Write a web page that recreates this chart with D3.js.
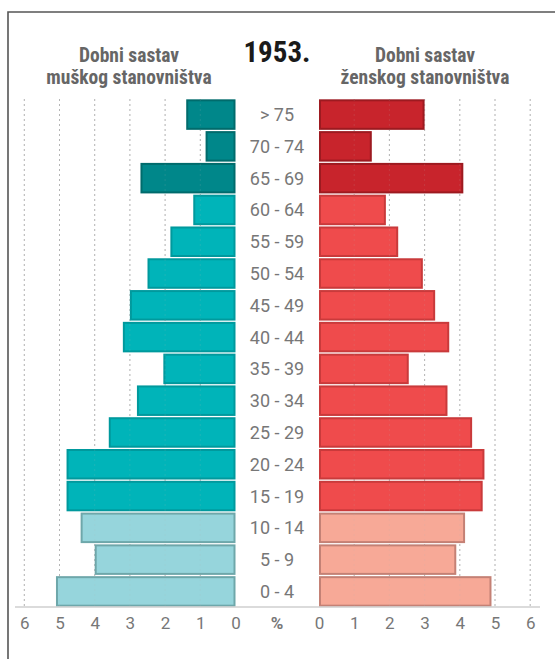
<!DOCTYPE html>
<html>
<head>
<meta charset="utf-8">
<script src="https://cdnjs.cloudflare.com/ajax/libs/d3/7.8.5/d3.min.js"></script>
<style>
	body { margin: 0; background: #fff; }
	svg { display: block; }
	.age { font-family: Roboto, "Liberation Sans", sans-serif; font-size: 18px; fill: #777; }
	.tick text { font-family: Roboto, "Liberation Sans", sans-serif; font-size: 17px; fill: #777; }
	.subtitle { font-family: "Liberation Sans Narrow", "Roboto Condensed", "Arial Narrow", sans-serif; font-weight: bold; font-size: 19.5px; fill: #666; }
	.graphtitle { font-family: "Liberation Sans Narrow", "Roboto Condensed", "Arial Narrow", sans-serif; font-weight: bold; font-size: 29px; fill: #1a1a1a; }
</style>
</head>
<body>
<svg class="pyramid"></svg>
<script>
/* Population pyramid for 1953, drawn for the page */

// age groups, top to bottom
var ageGroups = ["> 75", "70 - 74", "65 - 69", "60 - 64", "55 - 59", "50 - 54", "45 - 49", "40 - 44",
	"35 - 39", "30 - 34", "25 - 29", "20 - 24", "15 - 19", "10 - 14", "5 - 9", "0 - 4"];
// share of population, %
var maleValues = [1.4, 0.85, 2.7, 1.2, 1.85, 2.5, 3.0, 3.2, 2.05, 2.8, 3.6, 4.8, 4.8, 4.4, 4.0, 5.1];
var femaleValues = [3.0, 1.5, 4.1, 1.9, 2.25, 2.95, 3.3, 3.7, 2.55, 3.65, 4.35, 4.7, 4.65, 4.15, 3.9, 4.9];
// which colour tier each age group belongs to
var ageTiers = ["old", "old", "old", "work", "work", "work", "work", "work",
	"work", "work", "work", "work", "work", "young", "young", "young"];
var tickValues = [0, 1, 2, 3, 4, 5, 6];

var maleColors = {
	old: { fill: "#00878a", stroke: "#006b6c" },
	work: { fill: "#00b4b9", stroke: "#00999d" },
	young: { fill: "#96d5dc", stroke: "#6ea7aa" }
};
var femaleColors = {
	old: { fill: "#c8242c", stroke: "#9d1a20" },
	work: { fill: "#ef4b4c", stroke: "#c93a3b" },
	young: { fill: "#f7a997", stroke: "#c48175" }
};

var width = 555, height = 659;
var plotTop = 99, plotBottom = 607;

var data = ageGroups.map(function(a, i) {
	return { age: a, male: maleValues[i], female: femaleValues[i], tier: ageTiers[i] };
});

var svg = d3.select(".pyramid")
	.attr("width", width)
	.attr("height", height);

var xLeft = d3.scaleLinear().domain([0, 6]).range([235.5, 24.3]);
var xRight = d3.scaleLinear().domain([0, 6]).range([319, 530.2]);
var y = d3.scaleBand().domain(ageGroups).range([plotTop, plotBottom]).paddingInner(0.04).paddingOuter(0.01);

// frame
svg.append("path")
	.attr("d", "M555,12H8V659")
	.attr("fill", "none")
	.attr("stroke", "#555")
	.attr("stroke-width", 1.6);

// dotted grid
function drawGrid(cls, opacity) {
	var g = svg.append("g").attr("class", cls);
	g.selectAll(".gl").data(tickValues.slice(1)).enter().append("line")
		.attr("x1", function(d) { return xLeft(d); })
		.attr("x2", function(d) { return xLeft(d); })
		.attr("y1", plotTop).attr("y2", plotBottom)
		.attr("stroke", "#b5b5b5").attr("stroke-dasharray", "2,3").attr("opacity", opacity);
	g.selectAll(".gr").data(tickValues.slice(1)).enter().append("line")
		.attr("x1", function(d) { return xRight(d); })
		.attr("x2", function(d) { return xRight(d); })
		.attr("y1", plotTop).attr("y2", plotBottom)
		.attr("stroke", "#b5b5b5").attr("stroke-dasharray", "2,3").attr("opacity", opacity);
}
drawGrid("grid", 1);

// male bars
svg.selectAll(".male")
	.data(data)
  .enter().append("rect")
	.attr("class", "male")
	.attr("x", function(d) { return xLeft(d.male) + 1; })
	.attr("y", function(d) { return y(d.age) + 1; })
	.attr("width", function(d) { return xLeft(0) - xLeft(d.male) - 2; })
	.attr("height", y.bandwidth() - 2)
	.attr("fill", function(d) { return maleColors[d.tier].fill; })
	.attr("stroke", function(d) { return maleColors[d.tier].stroke; })
	.attr("stroke-width", 2);

// female bars
svg.selectAll(".female")
	.data(data)
  .enter().append("rect")
	.attr("class", "female")
	.attr("x", xRight(0) + 1)
	.attr("y", function(d) { return y(d.age) + 1; })
	.attr("width", function(d) { return xRight(d.female) - xRight(0) - 2; })
	.attr("height", y.bandwidth() - 2)
	.attr("fill", function(d) { return femaleColors[d.tier].fill; })
	.attr("stroke", function(d) { return femaleColors[d.tier].stroke; })
	.attr("stroke-width", 2);

// faint grid showing through the bars
drawGrid("grid-over", 0.15);

// age labels
svg.selectAll(".age")
	.data(data)
  .enter().append("text")
	.attr("class", "age")
	.attr("x", 277)
	.attr("y", function(d) { return y(d.age) + y.bandwidth() / 2; })
	.attr("dy", "0.36em")
	.attr("text-anchor", "middle")
	.text(function(d) { return d.age; });

// base line
svg.append("line")
	.attr("x1", 15).attr("x2", 540)
	.attr("y1", plotBottom).attr("y2", plotBottom)
	.attr("stroke", "#cfcfcf").attr("stroke-width", 1.5);

// axes
var axisLeft = d3.axisBottom(xLeft).tickValues(tickValues).tickSize(0).tickPadding(10).tickFormat(d3.format("d"));
var axisRight = d3.axisBottom(xRight).tickValues(tickValues).tickSize(0).tickPadding(10).tickFormat(d3.format("d"));

svg.append("g").attr("class", "x axis").attr("transform", "translate(0," + plotBottom + ")").call(axisLeft)
	.call(function(g) { g.select(".domain").remove(); });
svg.append("g").attr("class", "x axis").attr("transform", "translate(0," + plotBottom + ")").call(axisRight)
	.call(function(g) { g.select(".domain").remove(); });

svg.append("text")
	.attr("x", 277).attr("y", 629)
	.attr("text-anchor", "middle")
	.style("font-family", "Roboto, sans-serif")
	.style("font-weight", "bold")
	.style("font-size", "17px")
	.style("fill", "#777")
	.text("%");

// titles
svg.append("text")
	.attr("class", "graphtitle")
	.attr("x", 277).attr("y", 62)
	.attr("text-anchor", "middle")
	.text("1953.");

var leftSub = svg.append("text").attr("class", "subtitle").attr("text-anchor", "middle");
leftSub.append("tspan").attr("x", 129).attr("y", 62).text("Dobni sastav");
leftSub.append("tspan").attr("x", 129).attr("y", 84).text("muškog stanovništva");

var rightSub = svg.append("text").attr("class", "subtitle").attr("text-anchor", "middle");
rightSub.append("tspan").attr("x", 425).attr("y", 62).text("Dobni sastav");
rightSub.append("tspan").attr("x", 425).attr("y", 84).text("ženskog stanovništva");
</script>
</body>
</html>
